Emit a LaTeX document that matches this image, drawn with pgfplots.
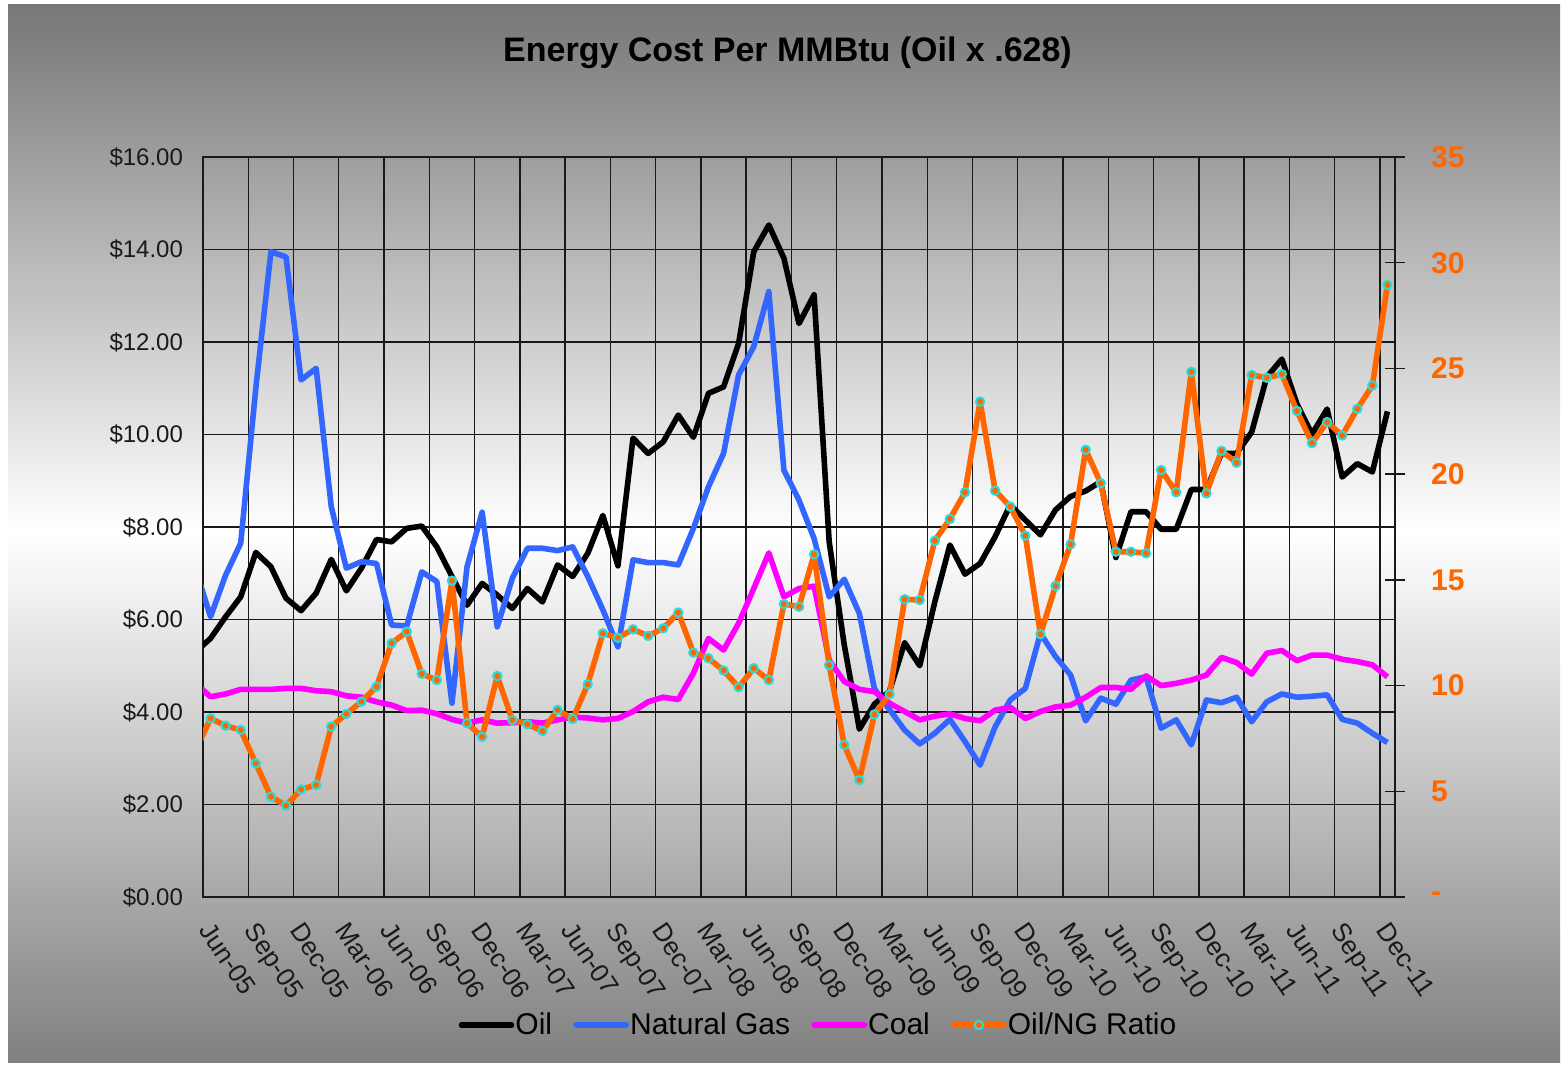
\documentclass[border=0pt]{standalone}
\usepackage{pgfplots}
\pgfplotsset{compat=1.18}
\usepackage{pgfplotstable}
\usepackage{fontspec}
\setmainfont{Liberation Sans}
\definecolor{ngblue}{RGB}{51,102,255}
\definecolor{coalmag}{RGB}{255,0,255}
\definecolor{ratioorange}{RGB}{255,102,0}
\definecolor{ringcyan}{RGB}{40,220,220}
\definecolor{gridc}{RGB}{25,25,25}
\definecolor{bgtop}{RGB}{119,119,119}
\definecolor{bgbot}{RGB}{128,128,128}

\pgfplotstableread{
k oil ng coal ratio
-1 5.30 7.10 4.62 6.90
0 5.59 6.06 4.33 8.45
1 6.06 6.96 4.39 8.10
2 6.49 7.65 4.49 7.90
3 7.45 11.00 4.49 6.32
4 7.14 13.95 4.49 4.75
5 6.46 13.84 4.51 4.32
6 6.19 11.18 4.51 5.09
7 6.57 11.43 4.46 5.30
8 7.30 8.44 4.44 8.06
9 6.62 7.11 4.35 8.66
10 7.11 7.25 4.32 9.24
11 7.73 7.21 4.22 9.95
12 7.68 5.88 4.15 12.00
13 7.97 5.86 4.03 12.55
14 8.02 7.03 4.04 10.55
15 7.57 6.82 3.96 10.26
16 6.93 4.19 3.84 14.96
17 6.31 7.14 3.76 8.22
18 6.78 8.32 3.83 7.58
19 6.53 5.84 3.76 10.45
20 6.24 6.89 3.77 8.37
21 6.67 7.54 3.79 8.17
22 6.38 7.54 3.76 7.85
23 7.18 7.49 3.83 8.85
24 6.93 7.57 3.89 8.42
25 7.43 6.93 3.87 10.06
26 8.25 6.21 3.83 12.47
27 7.16 5.41 3.86 12.26
28 9.92 7.29 4.01 12.66
29 9.59 7.23 4.22 12.35
30 9.84 7.23 4.32 12.71
31 10.42 7.18 4.27 13.45
32 9.94 7.97 4.84 11.56
33 10.89 8.87 5.59 11.29
34 11.03 9.59 5.34 10.71
35 11.97 11.29 5.92 9.92
36 13.95 11.90 6.67 10.82
37 14.53 13.09 7.44 10.26
38 13.81 9.23 6.49 13.86
39 12.40 8.58 6.67 13.73
40 13.02 7.75 6.72 16.21
41 7.68 6.49 5.12 10.97
42 5.45 6.87 4.66 7.19
43 3.63 6.13 4.49 5.53
44 4.17 4.50 4.44 8.64
45 4.45 4.05 4.19 9.59
46 5.50 3.61 4.01 14.08
47 5.00 3.31 3.83 14.05
48 6.38 3.54 3.91 16.85
49 7.61 3.84 3.96 17.88
50 6.98 3.36 3.86 19.14
51 7.21 2.85 3.81 23.43
52 7.79 3.68 4.04 19.22
53 8.48 4.26 4.10 18.46
54 8.15 4.51 3.86 17.09
55 7.83 5.70 4.01 12.43
56 8.37 5.20 4.11 14.71
57 8.66 4.80 4.15 16.68
58 8.78 3.81 4.32 21.15
59 8.98 4.30 4.53 19.57
60 7.34 4.17 4.53 16.33
61 8.33 4.69 4.49 16.33
62 8.33 4.76 4.78 16.26
63 7.95 3.65 4.57 20.19
64 7.95 3.83 4.62 19.14
65 8.81 3.29 4.69 24.84
66 8.81 4.26 4.80 19.09
67 9.59 4.20 5.18 21.10
68 9.59 4.32 5.07 20.54
69 10.05 3.79 4.82 24.69
70 11.24 4.22 5.27 24.56
71 11.63 4.39 5.33 24.73
72 10.66 4.32 5.11 22.99
73 10.01 4.34 5.23 21.47
74 10.55 4.37 5.23 22.46
75 9.08 3.84 5.14 21.83
76 9.37 3.76 5.09 23.09
77 9.19 3.54 5.02 24.19
78 10.50 3.34 4.76 28.95
}\data

\begin{document}
\begin{tikzpicture}
\path[use as bounding box] (0,0) rectangle (782pt,533.5pt);
\fill[white] (0,0) rectangle (782pt,533.5pt);
\shade[top color=bgtop, bottom color=bgbot, middle color=white] (4pt,2.5pt) rectangle (780pt,531pt);
\node[anchor=base, font=\bfseries\fontsize{17}{20}\selectfont] at (393.75pt,502.5pt) {Energy Cost Per MMBtu (Oil x .628)};

\begin{axis}[
  at={(101.5pt,85pt)}, anchor=south west,
  scale only axis, width=596pt, height=370pt,
  xmin=-0.5, xmax=78.5, ymin=0, ymax=16,
  xtick={0,3,...,78},
  xticklabels={Jun-05,Sep-05,Dec-05,Mar-06,Jun-06,Sep-06,Dec-06,Mar-07,Jun-07,Sep-07,Dec-07,Mar-08,Jun-08,Sep-08,Dec-08,Mar-09,Jun-09,Sep-09,Dec-09,Mar-10,Jun-10,Sep-10,Dec-10,Mar-11,Jun-11,Sep-11,Dec-11},
  minor xtick={2.5,5.5,...,77.5},
  xminorgrids, ymajorgrids,
  ytick={0,2,...,16},
  yticklabel={\$\pgfmathprintnumber[fixed,fixed zerofill,precision=2]{\tick}},
  /pgf/number format/assume math mode=true,
  major tick length=0pt, minor tick length=0pt,
  axis line style={gridc, line width=0.75pt},
  major grid style={gridc, line width=0.7pt},
  minor grid style={gridc, line width=0.7pt},
  xticklabel style={xshift=2.5pt, yshift=-7pt, rotate=-56, anchor=north west, font=\fontsize{13}{15}\selectfont, text=black!90},
  yticklabel style={font=\fontsize{12}{14}\selectfont, text=black!90, xshift=-6.5pt},
]
\addplot[black, line width=2.8pt, line join=round] table[x=k,y=oil]{\data};
\addplot[ngblue, line width=2.8pt, line join=round] table[x=k,y=ng]{\data};
\addplot[coalmag, line width=2.8pt, line join=round] table[x=k,y=coal]{\data};
\end{axis}

\begin{axis}[
  at={(101.5pt,85pt)}, anchor=south west,
  scale only axis, width=596pt, height=370pt,
  xmin=-0.5, xmax=78.5, ymin=0, ymax=35,
  axis x line=none, axis y line*=right,
  ytick={0,5,...,35}, yticklabels={-,5,10,15,20,25,30,35},
  major tick length=10pt, tick align=center,
  tick style={gridc, line width=0.7pt},
  y axis line style={gridc, line width=0.75pt},
  yticklabel style={font=\bfseries\fontsize{15}{18}\selectfont, text=ratioorange, anchor=west, xshift=9.5pt},
  legend columns=4,
  legend style={draw=none, fill=none, at={(0.516,-0.173)}, anchor=center,
    font=\fontsize{15}{18}\selectfont, nodes={inner sep=0.6pt},
    /tikz/every even column/.append style={column sep=10pt}},
  legend cell align=left,
  legend image code/.code={\draw[mark repeat=2,mark phase=2,#1] plot coordinates {(0pt,0pt) (12.5pt,0pt) (25pt,0pt)};},
]
\addlegendimage{black, line width=2.8pt, line cap=round}
\addlegendentry{Oil}
\addlegendimage{ngblue, line width=2.8pt, line cap=round}
\addlegendentry{Natural Gas}
\addlegendimage{coalmag, line width=2.8pt, line cap=round}
\addlegendentry{Coal}
\addlegendimage{ratioorange, line width=2.8pt, line cap=round, mark=*, mark size=2.1pt, mark options={fill=ratioorange, draw=ringcyan, line width=1pt}}
\addlegendentry{Oil/NG Ratio}
\addplot[ratioorange, line width=2.8pt, line join=round, forget plot] table[x=k,y=ratio]{\data};
\addplot[only marks, mark=*, mark size=2.1pt, mark options={fill=ratioorange, draw=ringcyan, line width=1pt}, restrict x to domain=-0.4:80, forget plot] table[x=k,y=ratio]{\data};
\end{axis}
\end{tikzpicture}
\end{document}
